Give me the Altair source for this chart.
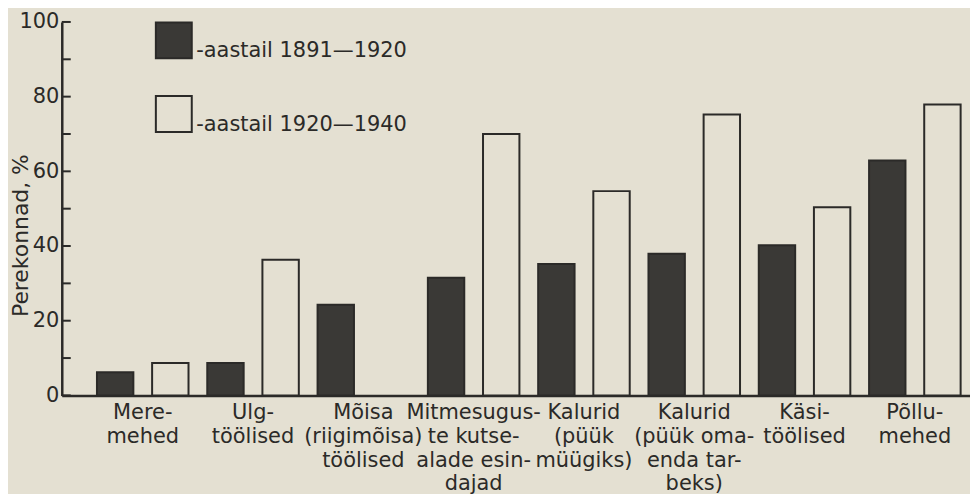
import altair as alt
import pandas as pd

# ---- data ----
categories = [
    "Mere-|mehed",
    "Ulg-|töölised",
    "Mõisa|(riigimõisa)|töölised",
    "Mitmesugus-|te kutse-|alade esin-|dajad",
    "Kalurid|(püük|müügiks)",
    "Kalurid|(püük oma-|enda tar-|beks)",
    "Käsi-|töölised",
    "Põllu-|mehed",
]
series = ["aastail 1891—1920", "aastail 1920—1940"]
values_1891_1920 = [6.2, 8.7, 24.3, 31.5, 35.2, 37.9, 40.2, 62.9]
values_1920_1940 = [8.7, 36.3, None, 70.0, 54.7, 75.2, 50.4, 77.9]
y_label_values = [0, 20, 40, 60, 80, 100]
y_tick_values = [0, 10, 20, 30, 40, 50, 60, 70, 80, 90, 100]

BG = "#e4e0d2"
INK = "#2b2a28"
DARK = "#3a3936"
FONT = "DejaVu Sans"

rows = []
for c, v in zip(categories, values_1891_1920):
    rows.append({"category": c, "series": series[0], "value": v})
for c, v in zip(categories, values_1920_1940):
    if v is not None:
        rows.append({"category": c, "series": series[1], "value": v})
df = pd.DataFrame(rows)
ticks_df = pd.DataFrame({"tick": y_tick_values})

y_scale = alt.Scale(domain=[0, 100], nice=False)

bars = alt.Chart(df).mark_bar(stroke=INK, strokeWidth=2).encode(
    x=alt.X(
        "category:N",
        sort=categories,
        scale=alt.Scale(paddingInner=0, paddingOuter=0.117, align=1),
        axis=alt.Axis(
            title=None,
            labelExpr="split(datum.label, '|')",
            labelAngle=0,
            ticks=False,
            labelFont=FONT,
            labelFontSize=21,
            labelLineHeight=24,
            labelPadding=6,
            labelBaseline="top",
            labelColor=INK,
            domainColor=INK,
            domainWidth=2.5,
        ),
    ),
    xOffset=alt.XOffset(
        "series:N", sort=series,
        scale=alt.Scale(paddingInner=0.34, paddingOuter=0.17),
    ),
    y=alt.Y(
        "value:Q",
        scale=y_scale,
        axis=alt.Axis(
            values=y_label_values,
            ticks=False,
            grid=False,
            labelFont=FONT,
            labelFontSize=21,
            labelPadding=3,
            labelColor=INK,
            domainColor=INK,
            domainWidth=2.5,
            title="Perekonnad, %",
            titleFont=FONT,
            titleFontSize=22,
            titleFontWeight="normal",
            titleColor=INK,
            titleAngle=270,
            titleX=-41,
            titleY=214,
            titleAlign="center",
            titleBaseline="middle",
        ),
    ),
    fill=alt.Fill(
        "series:N",
        scale=alt.Scale(domain=series, range=[DARK, BG]),
        legend=alt.Legend(
            title=None,
            orient="none",
            legendX=93,
            legendY=-1,
            symbolType="square",
            symbolSize=1300,
            symbolStrokeColor=INK,
            symbolStrokeWidth=2,
            symbolOpacity=1,
            rowPadding=29,
            labelFont=FONT,
            labelFontSize=21,
            labelColor=INK,
            labelOffset=3,
            labelBaseline="top",
            labelExpr="'-' + datum.label",
            labelLimit=400,
        ),
    ),
)

minor = alt.Chart(ticks_df).mark_rule(color=INK, strokeWidth=2).encode(
    y=alt.Y("tick:Q", scale=y_scale),
    x=alt.value(0),
    x2=alt.value(9),
)

chart = alt.layer(bars, minor).properties(
    width=912,
    height=375,
    background=BG,
    padding={"top": 2, "left": 2, "right": 0, "bottom": 0},
).configure_view(stroke=None)

chart.save("out.html", embed_options={"renderer": "svg", "actions": False})
